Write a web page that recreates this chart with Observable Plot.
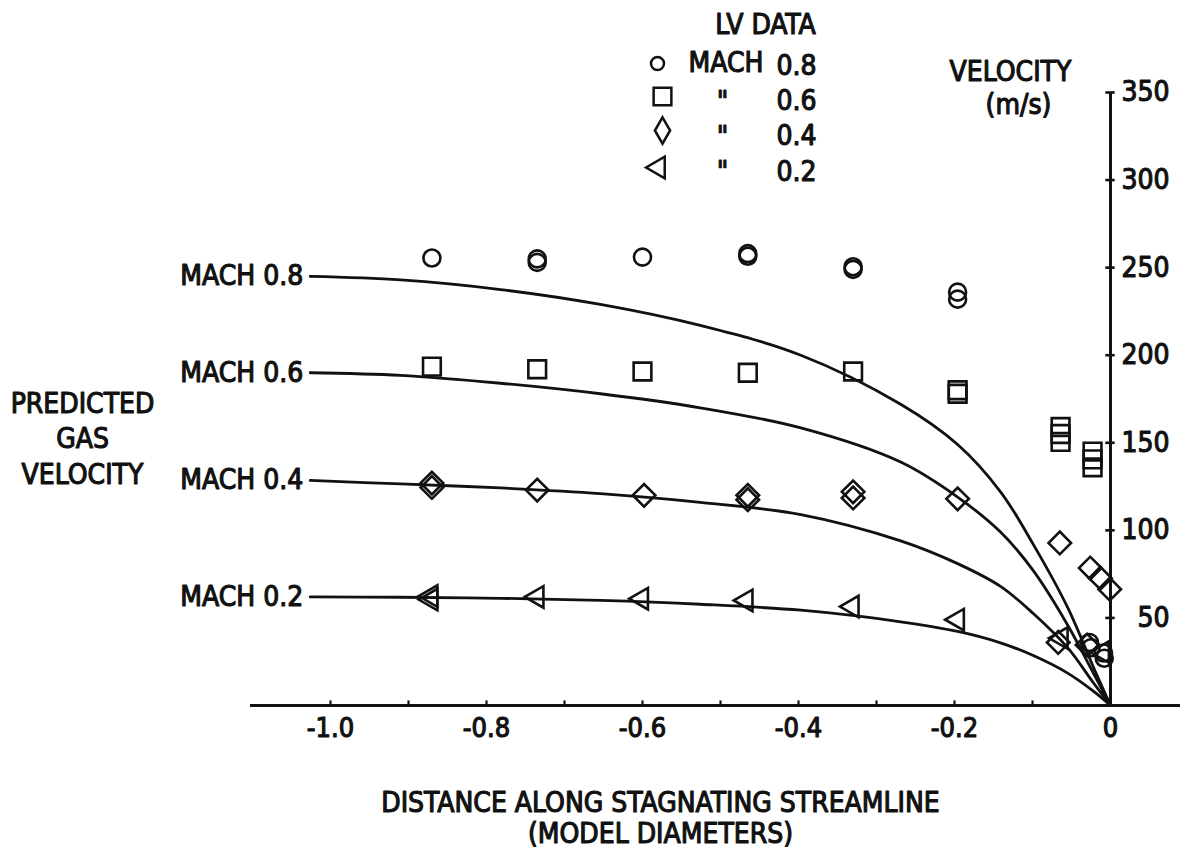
<!DOCTYPE html>
<html>
<head>
<meta charset="utf-8">
<script src="https://cdn.jsdelivr.net/npm/d3@7"></script>
<script src="https://cdn.jsdelivr.net/npm/@observablehq/plot@0.6"></script>
<style>
  html, body { margin: 0; padding: 0; background: #fff; }
  #chart svg { display: block; }
  #chart svg text { stroke: #111; stroke-width: 1.1px; paint-order: stroke; stroke-linejoin: round; }
</style>
</head>
<body>
<div id="chart"></div>
<script>
// ---- Predicted curves ----
const curveX  = [-1.026, -0.910, -0.782, -0.654, -0.526, -0.397, -0.269, -0.196, -0.141, -0.099, -0.055, -0.022, 0];
const curve08 = [245, 243, 237.5, 229, 217, 200, 172, 149, 122, 92, 56, 22, 0];
const curve06 = [190, 188.5, 184, 178, 170, 158.5, 139, 119, 99, 77, 46, 18.5, 0];
const curve04 = [128.5, 126.5, 124.2, 121, 116, 109, 94, 81, 68, 52.5, 33, 13, 0];
const curve02 = [62, 61.8, 61.2, 60, 57.8, 54.4, 47.8, 42.3, 35.8, 28.5, 18.5, 8.2, 0];
const curveLabels = ["MACH 0.8", "MACH 0.6", "MACH 0.4", "MACH 0.2"];

// ---- LV data points ----
const lv08X = [-0.870, -0.735, -0.735, -0.600, -0.465, -0.465, -0.330, -0.330, -0.196, -0.196, -0.027, -0.025, -0.009, -0.008];
const lv08V = [255.5, 255, 253, 256, 258, 256.5, 250.5, 249, 236, 232, 36, 33, 30, 27];
const lv06X = [-0.870, -0.735, -0.600, -0.465, -0.330, -0.196, -0.196, -0.064, -0.064, -0.064, -0.023, -0.023, -0.023];
const lv06V = [193.5, 192, 190.7, 190, 190.7, 180, 178, 159, 155, 150.5, 145, 140.5, 136];
const lv04X = [-0.870, -0.870, -0.735, -0.598, -0.465, -0.465, -0.330, -0.330, -0.196, -0.065, -0.026, -0.013, -0.001, -0.067, -0.030];
const lv04V = [127, 124.5, 123, 120, 120, 117.5, 122, 118.5, 118, 92.8, 78.5, 72.7, 66.4, 36, 34.5];
const lv02X = [-0.871, -0.871, -0.735, -0.601, -0.467, -0.331, -0.196, -0.063, -0.010];
const lv02V = [62.5, 60.5, 62, 61, 60, 56.5, 49, 38.5, 30.5];

// ---- Axes ----
const xMinorTicks = [-1.0, -0.9, -0.8, -0.7, -0.6, -0.5, -0.4, -0.3, -0.2, -0.1];
const xLabelTicks = [-1.0, -0.8, -0.6, -0.4, -0.2, 0];
const yTicks = [50, 100, 150, 200, 250, 300, 350];
const xAxisExtent = [-1.1026, 0.0897];
const yAxisExtent = [0, 350];

// ---- Texts ----
const legendTitle = "LV DATA";
const legendMach = "MACH";
const legendDitto = ['"', '"', '"'];
const legendValues = ["0.8", "0.6", "0.4", "0.2"];
const yTitle = ["VELOCITY", "(m/s)"];
const leftTitle = ["PREDICTED", "GAS", "VELOCITY"];
const xTitle = ["DISTANCE ALONG STAGNATING STREAMLINE", "(MODEL DIAMETERS)"];

// ---- Build tables ----
const curveSeries = [curve08, curve06, curve04, curve02];
const curveRows = curveSeries.flatMap((vals, i) =>
  vals.map((v, j) => ({mach: curveLabels[i], x: curveX[j], v})));
const curveStarts = curveSeries.map((vals, i) => ({label: curveLabels[i], x: curveX[0], v: vals[0]}));
const pts = (xs, vs) => xs.map((x, i) => ({x, v: vs[i]}));

const FONT = "'Liberation Sans Narrow', 'DejaVu Sans Condensed', 'Arial Narrow', sans-serif";
const ink = "#111";
const FS = 28;
const txt = {fill: ink, fontSize: FS};

const chart = Plot.plot({
  width: 1190,
  height: 850,
  marginLeft: 330,
  marginRight: 80,
  marginTop: 92,
  marginBottom: 145,
  x: {domain: [-1, 0]},
  y: {domain: [0, 350]},
  style: {fontFamily: FONT, background: "#fff", color: ink, overflow: "visible"},
  marks: [
    // axis lines
    Plot.ruleY([0], {x1: xAxisExtent[0], x2: xAxisExtent[1], stroke: ink, strokeWidth: 3}),
    Plot.ruleX([0], {y1: yAxisExtent[0], y2: yAxisExtent[1], stroke: ink, strokeWidth: 3}),
    // tick bumps
    Plot.ruleX(xMinorTicks, {x: d => d, y1: 0, y2: 2.6, stroke: ink, strokeWidth: 2.2}),
    Plot.ruleY(yTicks, {y: d => d, x1: -0.006, x2: 0.006, stroke: ink, strokeWidth: 2.6}),
    // tick labels
    Plot.axisX(xLabelTicks, {tickSize: 0, tickPadding: 12, fontSize: 27, label: null,
      tickFormat: d => d === 0 ? "0" : d.toFixed(1), fill: ink}),
    Plot.axisY(yTicks, {anchor: "right", tickSize: 0, tickPadding: 59, textAnchor: "end",
      fontSize: FS, label: null, fill: ink}),
    // predicted curves
    Plot.line(curveRows, {x: "x", y: "v", z: "mach", curve: "catmull-rom", stroke: ink, strokeWidth: 2.8}),
    Plot.text(curveStarts, {x: "x", y: "v", text: "label", textAnchor: "end", dx: -7, ...txt}),
    // LV data
    Plot.dot(pts(lv08X, lv08V), {x: "x", y: "v", symbol: "circle", r: 8.5, stroke: ink, strokeWidth: 2.6, fill: "none"}),
    Plot.dot(pts(lv06X, lv06V), {x: "x", y: "v", symbol: "square", r: 10, stroke: ink, strokeWidth: 2.6, fill: "none"}),
    Plot.dot(pts(lv04X, lv04V), {x: "x", y: "v", symbol: "square", rotate: 45, r: 9, stroke: ink, strokeWidth: 2.6, fill: "none"}),
    Plot.dot(pts(lv02X, lv02V), {x: "x", y: "v", symbol: "triangle", rotate: -90, r: 8, stroke: ink, strokeWidth: 2.6, fill: "none"}),
    // legend
    Plot.text([legendTitle], {frameAnchor: "top-left", dx: 435, dy: -67, textAnchor: "middle", lineAnchor: "middle", ...txt}),
    Plot.dot([0], {frameAnchor: "top-left", dx: 327, dy: -29, symbol: "circle", r: 6.5, stroke: ink, strokeWidth: 2.5, fill: "none"}),
    Plot.dot([0], {frameAnchor: "top-left", dx: 332, dy: 4, symbol: "square", r: 10, stroke: ink, strokeWidth: 2.5, fill: "none"}),
    Plot.dot([0], {frameAnchor: "top-left", dx: 332, dy: 38, symbol: "diamond", r: 8, stroke: ink, strokeWidth: 2.5, fill: "none"}),
    Plot.dot([0], {frameAnchor: "top-left", dx: 328, dy: 75, symbol: "triangle", rotate: -90, r: 8, stroke: ink, strokeWidth: 2.5, fill: "none"}),
    Plot.text([legendMach], {frameAnchor: "top-left", dx: 358, dy: -29, textAnchor: "start", lineAnchor: "middle", ...txt}),
    Plot.text([legendDitto.join("\n")], {frameAnchor: "top-left", dx: 392, dy: 42, textAnchor: "middle", lineAnchor: "middle", lineHeight: 1.26, ...txt}),
    Plot.text([legendValues.join("\n")], {frameAnchor: "top-left", dx: 486, dy: 24, textAnchor: "end", lineAnchor: "middle", lineHeight: 1.26, ...txt}),
    // y title
    Plot.text([yTitle[0]], {frameAnchor: "top-right", dx: -100, dy: -20, textAnchor: "middle", lineAnchor: "middle", ...txt}),
    Plot.text([yTitle[1]], {frameAnchor: "top-right", dx: -92, dy: 13, textAnchor: "middle", lineAnchor: "middle", ...txt}),
    // left title
    Plot.text([leftTitle.join("\n")], {frameAnchor: "left", dx: -248, dy: 38, textAnchor: "middle", lineAnchor: "middle", lineHeight: 1.28, ...txt}),
    // x title
    Plot.text([xTitle[0]], {frameAnchor: "bottom", dx: -60, dy: 98, textAnchor: "middle", lineAnchor: "middle", ...txt}),
    Plot.text([xTitle[1]], {frameAnchor: "bottom", dx: -60, dy: 129, textAnchor: "middle", lineAnchor: "middle", ...txt})
  ]
});
document.getElementById("chart").append(chart);
</script>
</body>
</html>
